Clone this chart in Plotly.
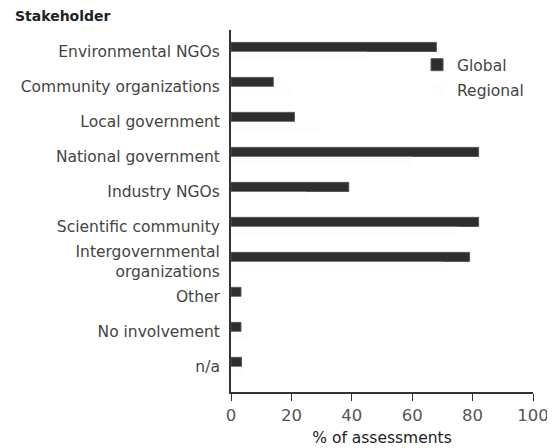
import plotly.graph_objects as go

categories = ["Environmental NGOs", "Community organizations", "Local government",
              "National government", "Industry NGOs", "Scientific community",
              "Intergovernmental<br>organizations", "Other", "No involvement", "n/a"]
global_vals = [68, 14, 21, 82, 39, 82, 79, 3.3, 3.3, 3.5]
regional_vals = [45, 20, 30, 60, 25, 75, 70, 5, 6, 4]
x_ticks = [0, 20, 40, 60, 80, 100]

fig = go.Figure()
fig.add_trace(go.Bar(y=categories, x=global_vals, name="Global", orientation="h",
                     legendgroup="g",
                     marker=dict(color="#2e2e2e", line=dict(color="#555555", width=1))))
fig.add_trace(go.Bar(y=categories, x=regional_vals, name="Regional", orientation="h",
                     legendgroup="r",
                     marker=dict(color="rgba(250,250,250,0.4)", line=dict(width=0))))

font_family = "DejaVu Sans, sans-serif"
# the page body has an 8px margin, so the canvas is 8px smaller and margins shifted
fig.update_layout(
    width=547, height=440,
    margin=dict(l=223, r=22, t=22, b=56),
    paper_bgcolor="white", plot_bgcolor="white",
    barmode="group", bargap=0.48, bargroupgap=0,
    font=dict(family=font_family, size=15.5, color="#444444"),
    showlegend=True,
    legend=dict(x=0.616, y=0.95, xanchor="left", yanchor="top",
                bgcolor="rgba(0,0,0,0)", font=dict(size=15.5, color="#444444"),
                itemwidth=30, tracegroupgap=2, traceorder="grouped"),
    xaxis=dict(range=[0, 100], tickvals=x_ticks, showgrid=False, zeroline=False,
               automargin=False,
               showline=True, linecolor="#333333", linewidth=2,
               ticks="outside", ticklen=7, tickcolor="#333333",
               tickfont=dict(size=16.5, color="#555555"),
               title=dict(text="% of assessments", font=dict(size=15.5, color="#222222"), standoff=8)),
    yaxis=dict(type="category", categoryorder="array", categoryarray=categories,
               automargin=False, ticklabelstandoff=6,
               range=[9.73, -0.614], showgrid=False, zeroline=False,
               showline=True, linecolor="#333333", linewidth=2, ticks="",
               tickfont=dict(size=15.5, color="#444444")),
)
fig.add_annotation(text="<b>Stakeholder</b>", xref="paper", yref="paper", x=-218/302, y=1.0,
                   xanchor="left", yanchor="bottom", yshift=4, showarrow=False,
                   font=dict(size=14, color="#222222"))
fig.write_html("out.html")
